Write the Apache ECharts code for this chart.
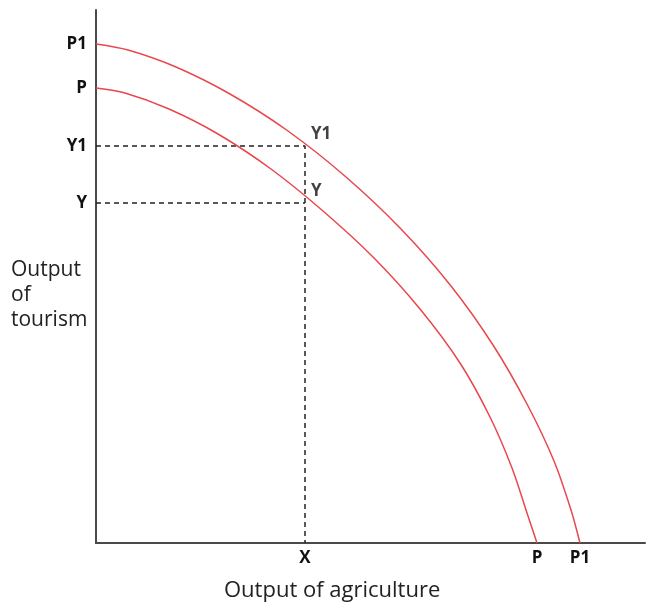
<!DOCTYPE html>
<html>
<head>
<meta charset="utf-8">
<title>Production possibility frontier</title>
<script src="https://cdn.jsdelivr.net/npm/echarts@6.0.0/dist/echarts.min.js"></script>
<style>
  html, body { margin: 0; padding: 0; background: #fff; }
  #chart { width: 648px; height: 605px; }
</style>
</head>
<body>
<div id="chart"></div>
<script>
// curve points: [agriculture, tourism]
const curveP = [
  [0, 455], [29, 450], [73, 434], [122, 409], [175, 374], [227, 332],
  [278, 285], [324, 234], [364, 180], [394, 126], [416, 75], [431, 30], [441, 0]
]
const curveP1 = [
  [0, 499], [32, 493], [80, 476], [134, 449], [192, 412], [250, 366],
  [305, 314], [355, 257], [397, 198], [431, 139], [458, 82], [475, 33], [484, 0]
]

// guide levels
const xLevel = 209
const y1Level = 397
const yLevel = 340

// tick labels
const yTickValues = [499, 455, 397, 340]
const yTickLabels = ['P1', 'P', 'Y1', 'Y']
const xTickValues = [209, 441, 484]
const xTickLabels = ['X', 'P', 'P1']

const pointLabels = [
  { name: 'Y1', value: [xLevel, y1Level] },
  { name: 'Y', value: [xLevel, yLevel] }
]

const red = '#e8474c'
const axisColor = '#4a4a4a'
const font = '"Open Sans", "DejaVu Sans", sans-serif'

const chart = echarts.init(document.getElementById('chart'))

const labelFor = (values, labels) => v => {
  const i = values.indexOf(Math.round(v))
  return i >= 0 ? labels[i] : ''
}

const option = {
  animation: false,
  grid: { left: 96, top: 10, right: 3, bottom: 62 },
  xAxis: {
    type: 'value',
    min: 0,
    max: 549,
    splitLine: { show: false },
    axisLine: { show: true, lineStyle: { color: axisColor, width: 2 } },
    axisTick: { show: false },
    axisLabel: {
      customValues: xTickValues,
      formatter: labelFor(xTickValues, xTickLabels),
      color: '#111',
      fontWeight: 'bold',
      fontSize: 17,
      fontFamily: font,
      margin: 7
    }
  },
  yAxis: {
    type: 'value',
    min: 0,
    max: 533,
    splitLine: { show: false },
    axisLine: { show: true, lineStyle: { color: axisColor, width: 2 } },
    axisTick: { show: false },
    axisLabel: {
      customValues: yTickValues,
      formatter: labelFor(yTickValues, yTickLabels),
      color: '#111',
      fontWeight: 'bold',
      fontSize: 17,
      fontFamily: font,
      margin: 9
    }
  },
  series: [
    {
      name: 'P1',
      type: 'line',
      data: curveP1,
      smooth: 0.3,
      symbol: 'none',
      lineStyle: { color: red, width: 1.5 },
      z: 3
    },
    {
      name: 'P',
      type: 'line',
      data: curveP,
      smooth: 0.3,
      symbol: 'none',
      lineStyle: { color: red, width: 1.5 },
      z: 3
    },
    {
      name: 'guide Y1',
      type: 'line',
      data: [[0, y1Level], [xLevel, y1Level], [xLevel, 0]],
      symbol: 'none',
      lineStyle: { color: '#222', width: 1.5, type: [5, 4] },
      z: 2
    },
    {
      name: 'guide Y',
      type: 'line',
      data: [[0, yLevel], [xLevel, yLevel]],
      symbol: 'none',
      lineStyle: { color: '#222', width: 1.5, type: [5, 4] },
      z: 2
    },
    {
      name: 'points',
      type: 'scatter',
      data: pointLabels,
      symbolSize: 0,
      label: {
        show: true,
        formatter: '{b}',
        position: 'right',
        distance: 0,
        offset: [6, -12],
        color: '#111',
        fontWeight: 'bold',
        fontSize: 17,
        fontFamily: font
      },
      z: 4
    }
  ],
  graphic: [
    {
      type: 'text',
      left: 11,
      top: 258,
      style: {
        text: 'Output\nof\ntourism',
        font: '21px ' + font,
        lineHeight: 25,
        fill: '#222'
      }
    },
    {
      type: 'text',
      left: 224,
      top: 580,
      style: {
        text: 'Output of agriculture',
        font: '22px ' + font,
        fill: '#222'
      }
    }
  ]
}

chart.setOption(option)
</script>
</body>
</html>
